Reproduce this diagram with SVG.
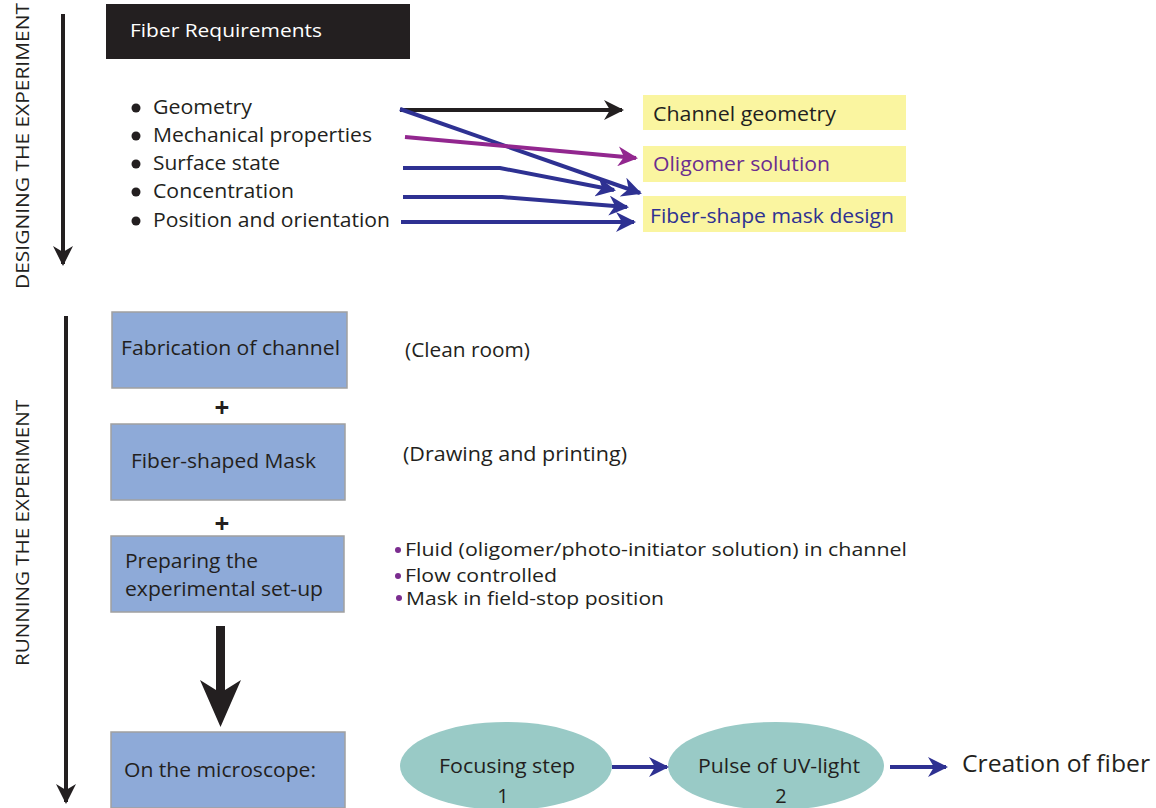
<svg xmlns="http://www.w3.org/2000/svg" width="1156" height="808" viewBox="0 0 1156 808">
<defs>
<style>
text{font-family:"Open Sans","Noto Sans","Liberation Sans",sans-serif;fill:#231f20;}
.t20{font-size:20px;}
.t19{font-size:18px;}
.box{fill:#8eaad8;stroke:#a0a0a0;stroke-width:1.5;}
.yel{fill:#faf5a0;}
.ell{fill:#99cac6;}
.blk{stroke:#231f20;stroke-width:4;fill:none;}
.blu{stroke:#2e3192;stroke-width:4;fill:none;}
.pur{stroke:#92278f;stroke-width:4;fill:none;}
</style>
<marker id="hb" viewBox="0 0 10 10" refX="9" refY="5" markerWidth="5" markerHeight="5" orient="auto" markerUnits="strokeWidth"><path d="M0,0 L10,5 L0,10 L3,5 Z" fill="#231f20"/></marker>
<marker id="hu" viewBox="0 0 10 10" refX="9" refY="5" markerWidth="5" markerHeight="5" orient="auto" markerUnits="strokeWidth"><path d="M0,0 L10,5 L0,10 L3,5 Z" fill="#2e3192"/></marker>
<marker id="hp" viewBox="0 0 10 10" refX="9" refY="5" markerWidth="5" markerHeight="5" orient="auto" markerUnits="strokeWidth"><path d="M0,0 L10,5 L0,10 L3,5 Z" fill="#92278f"/></marker>
</defs>
<rect width="1156" height="808" fill="#ffffff"/>

<g id="side-labels">
<text transform="translate(29,146) rotate(-90)" text-anchor="middle" font-size="19" textLength="286" lengthAdjust="spacingAndGlyphs">DESIGNING THE EXPERIMENT</text>
<text transform="translate(29,533) rotate(-90)" text-anchor="middle" font-size="19" textLength="266" lengthAdjust="spacingAndGlyphs">RUNNING THE EXPERIMENT</text>
</g>

<g id="fiber-requirements">
<rect x="106" y="4" width="304" height="55" fill="#231f20"/>
<text x="130" y="37" font-size="19" style="fill:#ffffff" textLength="192" lengthAdjust="spacingAndGlyphs">Fiber Requirements</text>
</g>

<g id="requirements-list" class="t20">
<circle cx="136" cy="108" r="4.5" fill="#231f20"/>
<circle cx="136" cy="136" r="4.5" fill="#231f20"/>
<circle cx="136" cy="164" r="4.5" fill="#231f20"/>
<circle cx="136" cy="192" r="4.5" fill="#231f20"/>
<circle cx="136" cy="221" r="4.5" fill="#231f20"/>
<text x="153" y="114" textLength="99" lengthAdjust="spacingAndGlyphs">Geometry</text>
<text x="153" y="142" textLength="219" lengthAdjust="spacingAndGlyphs">Mechanical properties</text>
<text x="153" y="170" textLength="127" lengthAdjust="spacingAndGlyphs">Surface state</text>
<text x="153" y="198" textLength="141" lengthAdjust="spacingAndGlyphs">Concentration</text>
<text x="153" y="227" textLength="237" lengthAdjust="spacingAndGlyphs">Position and orientation</text>
</g>

<g id="channel-geometry">
<rect class="yel" x="643" y="95" width="263" height="35"/>
<text class="t20" x="653" y="121" textLength="183" lengthAdjust="spacingAndGlyphs">Channel geometry</text>
</g>
<g id="oligomer-solution">
<rect class="yel" x="643" y="146" width="263" height="36"/>
<text class="t20" x="653" y="171" style="fill:#6b2d8f" textLength="177" lengthAdjust="spacingAndGlyphs">Oligomer solution</text>
</g>
<g id="mask-design">
<rect class="yel" x="643" y="196" width="263" height="36"/>
<text class="t20" x="650" y="223" style="fill:#2e3192" textLength="244" lengthAdjust="spacingAndGlyphs">Fiber-shape mask design</text>
</g>

<g id="fabrication">
<rect class="box" x="112" y="312" width="235" height="76"/>
<text class="t20" x="121" y="355" textLength="219" lengthAdjust="spacingAndGlyphs">Fabrication of channel</text>
</g>
<g id="mask">
<rect class="box" x="111" y="424" width="234" height="76"/>
<text class="t20" x="131" y="468" textLength="185" lengthAdjust="spacingAndGlyphs">Fiber-shaped Mask</text>
</g>
<g id="setup">
<rect class="box" x="111" y="536" width="233" height="76"/>
<text class="t20" x="125" y="568" textLength="133" lengthAdjust="spacingAndGlyphs">Preparing the</text>
<text class="t20" x="125" y="596" textLength="198" lengthAdjust="spacingAndGlyphs">experimental set-up</text>
</g>
<g id="microscope">
<rect class="box" x="111" y="732" width="234" height="76"/>
<text class="t20" x="124" y="777" textLength="192" lengthAdjust="spacingAndGlyphs">On the microscope:</text>
</g>

<g id="plus-signs" font-size="26" font-weight="bold">
<text x="222" y="417" text-anchor="middle">+</text>
<text x="222" y="533" text-anchor="middle">+</text>
</g>

<g id="notes">
<text class="t20" x="405" y="357" textLength="125" lengthAdjust="spacingAndGlyphs">(Clean room)</text>
<text class="t20" x="403" y="461" textLength="224" lengthAdjust="spacingAndGlyphs">(Drawing and printing)</text>
<circle cx="398" cy="550" r="3" fill="#7b2d8f"/>
<circle cx="398" cy="576" r="3" fill="#7b2d8f"/>
<circle cx="399" cy="598" r="3" fill="#7b2d8f"/>
<text class="t19" x="405" y="556" textLength="502" lengthAdjust="spacingAndGlyphs">Fluid (oligomer/photo-initiator solution) in channel</text>
<text class="t19" x="405" y="582" textLength="152" lengthAdjust="spacingAndGlyphs">Flow controlled</text>
<text class="t19" x="406" y="605" textLength="258" lengthAdjust="spacingAndGlyphs">Mask in field-stop position</text>
</g>

<g id="focusing">
<ellipse class="ell" cx="506" cy="766" rx="106" ry="44"/>
<text class="t20" x="507" y="773" text-anchor="middle" textLength="136" lengthAdjust="spacingAndGlyphs">Focusing step</text>
<text class="t20" x="503" y="803" text-anchor="middle">1</text>
</g>
<g id="uv-pulse">
<ellipse class="ell" cx="776" cy="766" rx="108" ry="44"/>
<text class="t20" x="779" y="773" text-anchor="middle" textLength="162" lengthAdjust="spacingAndGlyphs">Pulse of UV-light</text>
<text class="t20" x="781" y="803" text-anchor="middle">2</text>
</g>
<g id="creation">
<text x="962" y="772" font-size="24" textLength="188" lengthAdjust="spacingAndGlyphs">Creation of fiber</text>
</g>

<g id="connectors">
<line class="blk" x1="63" y1="14" x2="63" y2="264" stroke-width="3.5" marker-end="url(#hb)"/>
<line class="blk" x1="66" y1="316" x2="66" y2="802" stroke-width="3.5" marker-end="url(#hb)"/>
<line class="blk" x1="400" y1="110" x2="622" y2="110" marker-end="url(#hb)"/>
<line class="blu" x1="400" y1="109" x2="640" y2="193" marker-end="url(#hu)"/>
<line class="pur" x1="405" y1="137" x2="636" y2="158" marker-end="url(#hp)"/>
<polyline class="blu" points="403,168 500,168 614,190" marker-end="url(#hu)"/>
<polyline class="blu" points="403,197 502,197 627,207" marker-end="url(#hu)"/>
<line class="blu" x1="401" y1="222" x2="634" y2="222" marker-end="url(#hu)"/>
<path d="M216,626 H225 V690 L241,680 L220.5,727 L200,680 L216,690 Z" fill="#231f20"/>
<line class="blu" x1="612" y1="767" x2="667" y2="767" marker-end="url(#hu)"/>
<line class="blu" x1="890" y1="767" x2="946" y2="767" marker-end="url(#hu)"/>
</g>
</svg>
